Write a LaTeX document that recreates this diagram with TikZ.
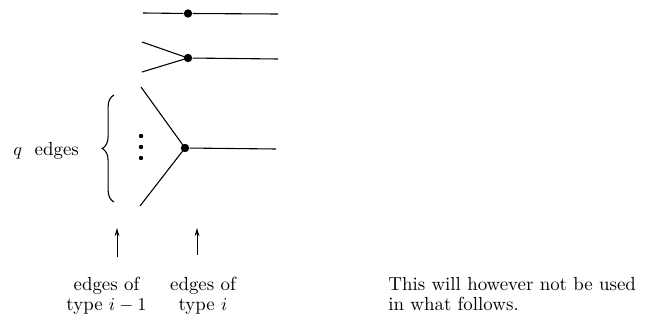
\documentclass[tikz,border=0pt]{standalone}
\usetikzlibrary{decorations.pathreplacing,arrows.meta}
\begin{document}
\begin{tikzpicture}[x=0.55pt,y=-0.55pt,
  vert/.style={circle,fill=black,inner sep=0pt,minimum size=4.6pt},
  edge/.style={line width=0.6pt},
  lbl/.style={font=\fontsize{10.4}{10.9}\selectfont,inner sep=0pt},
  up/.style={-{Stealth[length=4.5pt,width=2.6pt]},line width=0.5pt}]
\useasboundingbox (0,0) rectangle (657,321);
% row 1
\coordinate (a1) at (143,13);
\node[vert] (v1) at (188,13.5) {};
\coordinate (b1) at (278,14);
\draw[edge] (a1) -- (v1) -- (b1);
% row 2
\coordinate (a2) at (142,42);
\coordinate (a3) at (142,72);
\node[vert] (v2) at (188,58) {};
\coordinate (b2) at (278,59);
\draw[edge] (a2) -- (v2.center) -- (a3);
\draw[edge] (v2) -- (b2);
% row 3
\coordinate (a4) at (141,87);
\coordinate (a5) at (140,206);
\node[vert] (v3) at (185,148) {};
\coordinate (b3) at (276,149);
\draw[edge] (a4) -- (v3.center) -- (a5);
\draw[edge] (v3) -- (b3);
% vertical dots
\foreach \yy in {136,147,158} \fill (141,\yy) circle (1.2pt);
% brace
\coordinate (br1) at (114,202);
\coordinate (br2) at (114,95);
\draw[line width=0.6pt,decoration={brace,amplitude=6.5pt},decorate] (br1) -- (br2);
\node[lbl,anchor=base west] (q) at (13,155) {$q$\ \ edges};
% arrows
\coordinate (s1) at (117,257);
\coordinate (t1) at (117,228);
\coordinate (s2) at (197,255);
\coordinate (t2) at (197,228);
\draw[up] (s1) -- (t1);
\draw[up] (s2) -- (t2);
\node[lbl,align=center,anchor=north] (l1) at (106.5,277) {edges of\\type $i-1$};
\node[lbl,align=center,anchor=north] (l3) at (203,277) {edges of\\type $i$};
\node[lbl,align=left,anchor=north west] (n1) at (388,277) {This will however not be used\\in what follows.};
\end{tikzpicture}
\end{document}
